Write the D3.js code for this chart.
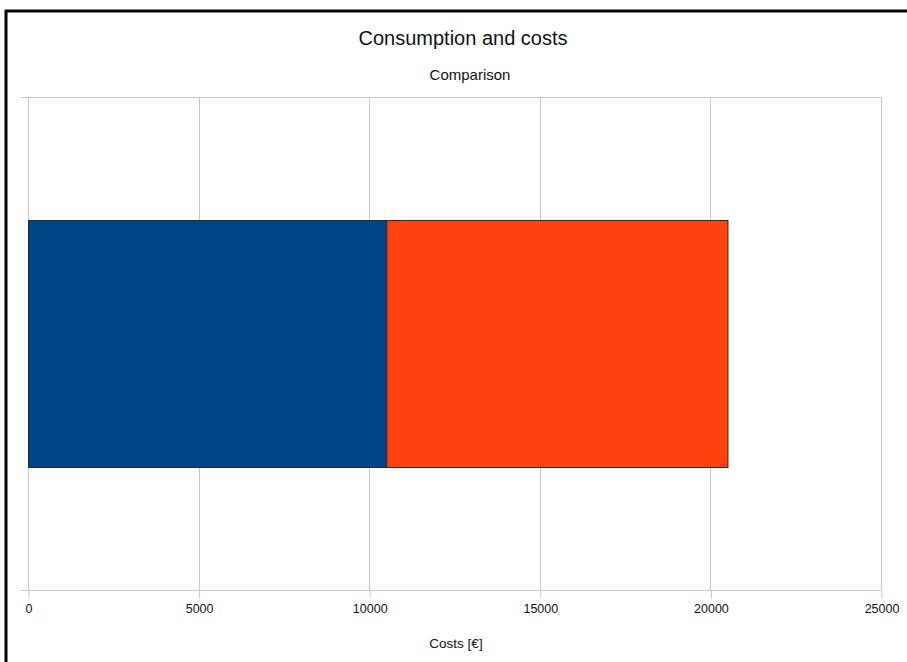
<!DOCTYPE html>
<html>
<head>
<meta charset="utf-8">
<script src="https://cdn.jsdelivr.net/npm/d3@7"></script>
<style>
  html, body { margin: 0; padding: 0; background: #fff; }
  svg { display: block; font-family: "Liberation Sans", Arial, sans-serif; }
</style>
</head>
<body>
<svg id="chart" width="907" height="662"></svg>
<script>
// Chart data
const categories = ["Comparison"];
const seriesNames = ["Consumption", "Other"];
const seriesColors = ["#004586", "#ff420e"];
const seriesValues = [[10500], [10000]];
const xTicks = [0, 5000, 10000, 15000, 20000, 25000];

const svg = d3.select("#chart");
const W = 907, H = 662;
const margin = { left: 28, right: 26, top: 97, bottom: 72 };
const plotW = W - margin.left - margin.right;
const plotH = H - margin.top - margin.bottom;

// Outer frame (left and top edges)
svg.append("path")
  .attr("d", `M6,${H} V11 H${W}`)
  .attr("fill", "none").attr("stroke", "#000").attr("stroke-width", 3);

// Titles
svg.append("text").attr("x", 463).attr("y", 45)
  .attr("text-anchor", "middle").attr("font-size", 20).attr("fill", "#111")
  .text("Consumption and costs");
svg.append("text").attr("x", 470).attr("y", 80)
  .attr("text-anchor", "middle").attr("font-size", 15).attr("fill", "#111")
  .text("Comparison");

const g = svg.append("g").attr("transform", `translate(${margin.left},${margin.top})`);

const x = d3.scaleLinear().domain([0, 25000]).range([0, plotW]);
const y = d3.scaleBand().domain(categories).range([0, plotH])
  .paddingInner(0.5).paddingOuter(0.25);

// Vertical grid lines
g.append("g").selectAll("line").data(xTicks).join("line")
  .attr("x1", d => Math.round(x(d)) + 0.5).attr("x2", d => Math.round(x(d)) + 0.5)
  .attr("y1", 0).attr("y2", plotH)
  .attr("stroke", "#c8c8c8").attr("stroke-width", 1);

// Top and bottom border of plot area with short ticks on the left
[0, plotH].forEach(yy => {
  g.append("line").attr("x1", -7).attr("x2", plotW)
    .attr("y1", yy + 0.5).attr("y2", yy + 0.5)
    .attr("stroke", "#c8c8c8");
});

// Stacked bars
const stack = seriesValues.map((vals, i) => {
  const prev = seriesValues.slice(0, i).reduce((s, v) => s + v[0], 0);
  return { name: seriesNames[i], color: seriesColors[i], x0: prev, x1: prev + vals[0] };
});
g.append("g").selectAll("rect").data(stack).join("rect")
  .attr("x", d => x(d.x0) + 0.5)
  .attr("y", Math.round(y(categories[0])) + 0.5)
  .attr("width", d => x(d.x1) - x(d.x0))
  .attr("height", Math.round(y.bandwidth()))
  .attr("fill", d => d.color)
  .attr("stroke", "#2a2a2a").attr("stroke-width", 1);

// X axis
const xAxis = d3.axisBottom(x).tickValues(xTicks).tickSize(8).tickPadding(6)
  .tickFormat(d3.format("d"));
const ax = g.append("g").attr("transform", `translate(0.5,${plotH + 0.5})`).call(xAxis);
ax.select(".domain").remove();
ax.selectAll(".tick line").attr("stroke", "#c8c8c8");
ax.selectAll(".tick text").attr("font-size", 12.5).attr("fill", "#111")
  .attr("font-family", "\"Liberation Sans\", Arial, sans-serif");

// Axis title
svg.append("text").attr("x", 456).attr("y", 648)
  .attr("text-anchor", "middle").attr("font-size", 13.5).attr("fill", "#111")
  .text("Costs [€]");
</script>
</body>
</html>
